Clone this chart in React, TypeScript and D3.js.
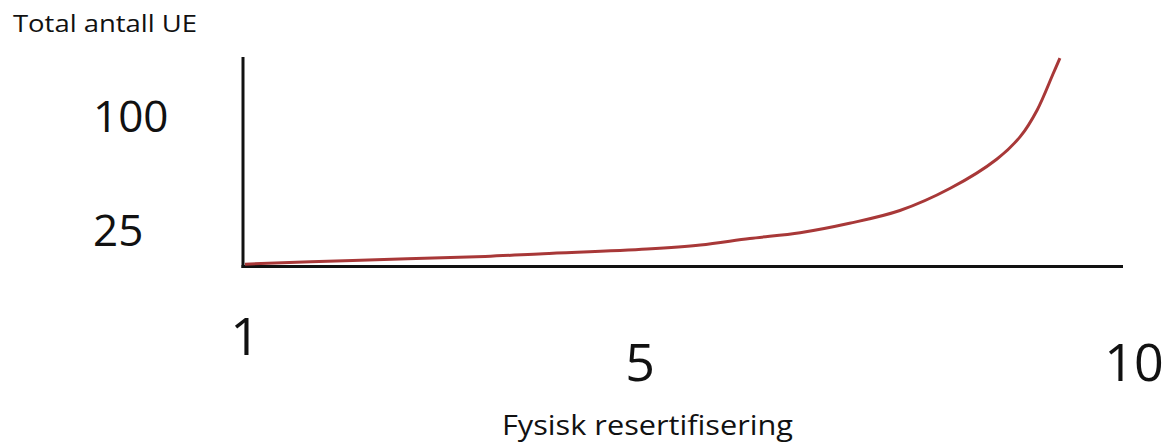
import React from "react";
import * as d3 from "d3";

const W = 1172;
const H = 443;

const curveX = [1, 2.09, 3.43, 4.02, 5.07, 5.61, 6.11, 6.62, 7.12, 7.63, 8.14, 8.61, 8.85, 9.02, 9.18, 9.25];
const curveY = [2.5, 5.0, 7.6, 9.4, 12.5, 15.1, 19.4, 23.2, 29.4, 37.8, 52.4, 71.5, 86.5, 103.9, 127.5, 138];
const yTicks = [25, 100];
const xTicks = [1, 5, 10];
const yTitle = "Total antall UE";
const xTitle = "Fysisk resertifisering";

const FONT = "'Open Sans', 'Noto Sans', sans-serif";

export default function App() {
  const x = d3.scaleLinear().domain([1, 10]).range([245, 1134]);
  const y = d3.scaleLinear().domain([0, 140]).range([268, 55]);

  const pts: [number, number][] = curveX.map((v, i) => [v, curveY[i]]);
  const line = d3
    .line<[number, number]>()
    .x((d) => x(d[0]))
    .y((d) => y(d[1]))
    .curve(d3.curveCatmullRom.alpha(0.5));

  const axisLeft = 243;
  const axisBottom = 266.5;
  const axisRight = 1123;
  const axisTop = 57;

  return (
    <svg
      width={W}
      height={H}
      style={{ position: "absolute", left: 0, top: 0, background: "#fff" }}
    >
      <rect width={W} height={H} fill="#fff" />
      <text x={13} y={32} fontFamily={FONT} fontSize={23} fill="#111" textLength={184} lengthAdjust="spacingAndGlyphs">
        {yTitle}
      </text>
      {yTicks.map((t) => (
        <text key={t} x={93} y={y(t)} dy="0.36em" fontFamily={FONT} fontSize={44} fill="#111">
          {t}
        </text>
      ))}
      {xTicks.map((t, i) => (
        <text
          key={t}
          x={x(t)}
          y={i === 0 ? 355 : 381}
          textAnchor="middle"
          fontFamily={FONT}
          fontSize={52}
          fill="#111"
        >
          {t}
        </text>
      ))}
      <text x={502} y={435} fontFamily={FONT} fontSize={27} fill="#111" textLength={291} lengthAdjust="spacingAndGlyphs">
        {xTitle}
      </text>
      <line x1={axisLeft} y1={axisTop} x2={axisLeft} y2={axisBottom + 1.5} stroke="#111" strokeWidth={3} />
      <line x1={axisLeft - 1.5} y1={axisBottom} x2={axisRight} y2={axisBottom} stroke="#111" strokeWidth={3} />
      <path d={line(pts) || ""} fill="none" stroke="#a83838" strokeWidth={3} />
    </svg>
  );
}
